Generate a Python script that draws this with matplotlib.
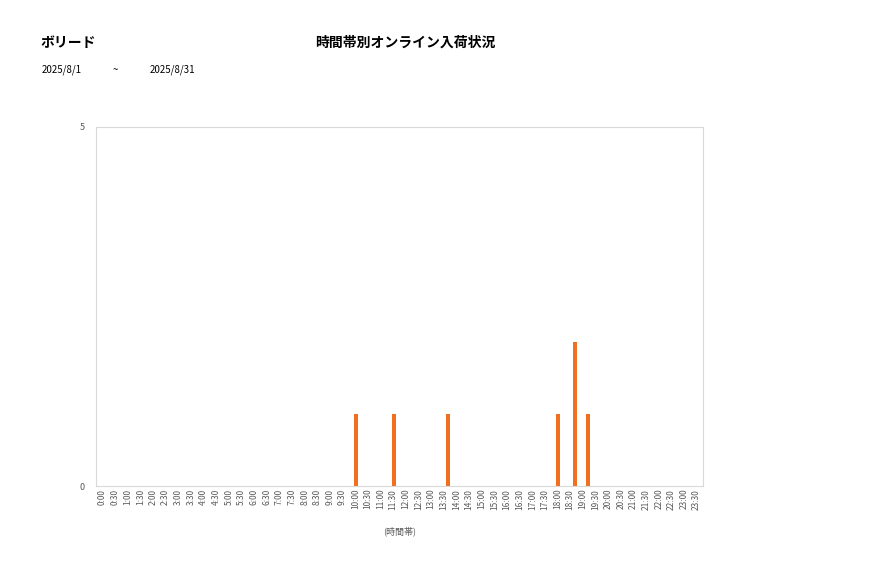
import matplotlib
matplotlib.use('Agg')
import matplotlib.pyplot as plt
import numpy as np

plt.rcParams['font.family'] = ['Noto Sans CJK JP', 'DejaVu Sans']

slots = ['%d:%02d' % (h, m) for h in range(24) for m in (0, 30)]

# three series per time slot (clustered bars), left one is empty
series_1 = [0] * 48
series_2 = [0] * 48
series_3 = [0] * 48
for lab, v in [('10:00', 1), ('11:30', 1), ('18:00', 1)]:
    series_2[slots.index(lab)] = v
for lab, v in [('13:30', 1), ('18:30', 2), ('19:00', 1)]:
    series_3[slots.index(lab)] = v

shop_name = 'ボリード'
title = '時間帯別オンライン入荷状況'
date_from = '2025/8/1'
date_to = '2025/8/31'

fig = plt.figure(figsize=(8.77, 5.78), dpi=100)
ax = fig.add_axes([96 / 877, 92 / 578, 607 / 877, 359 / 578])

x = np.arange(len(slots))
w = 0.32
color = '#F07020'
for k, s in enumerate([series_1, series_2, series_3]):
    ax.bar(x + (k - 1) * w + 0.05, s, width=w, color=color)

ax.set_xlim(-0.5, len(slots) - 0.5)
ax.set_ylim(0, 5)
ax.set_yticks([0, 5])
ax.set_xticks(x)
ax.set_xticklabels(slots, rotation=90, fontsize=6, color='#595959')
ax.tick_params(axis='y', labelsize=6.5, colors='#595959', length=0, pad=8)
ax.tick_params(axis='x', length=0, pad=2)
for sp in ax.spines.values():
    sp.set_color('#D9D9D9')
    sp.set_linewidth(0.8)

ax.set_xlabel('(時間帯)', fontsize=6.5, color='#595959', labelpad=12)

fig.text(40 / 877, 1 - 43 / 578, shop_name, fontsize=10, fontweight='bold', va='center', ha='left')
fig.text(405 / 877, 1 - 43 / 578, title, fontsize=10, fontweight='bold', va='center', ha='center')
fig.text(42 / 877, 1 - 70 / 578, date_from, fontsize=7, va='center', ha='left')
fig.text(113 / 877, 1 - 70 / 578, '~', fontsize=7, va='center', ha='left')
fig.text(150 / 877, 1 - 70 / 578, date_to, fontsize=7, va='center', ha='left')

fig.savefig('out.png', dpi=100)
